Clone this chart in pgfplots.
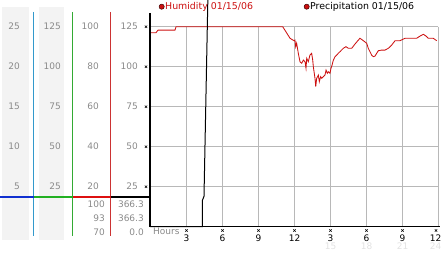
\documentclass[border=0pt]{standalone}
\usepackage{pgfplots}
\pgfplotsset{compat=1.18}
\usepackage{pgfplotstable}
\usepackage{fontspec}
\setmainfont{DejaVu Sans}
\definecolor{hum}{HTML}{CC1010}
\definecolor{bgg}{HTML}{F3F3F3}
\definecolor{gridg}{HTML}{B8B8B8}
\definecolor{lab}{HTML}{8A8A8A}
\definecolor{faint}{HTML}{E2E2E2}
\definecolor{vblue}{HTML}{3399CC}
\definecolor{hblue}{HTML}{1030D0}
\definecolor{vgreen}{HTML}{33AA33}
\definecolor{hgreen}{HTML}{22B022}
\definecolor{vred}{HTML}{CC3333}
\definecolor{hred}{HTML}{DD1010}

\pgfplotstableread{
t h
0 97.0
0.5 97.0
0.67 98.3
2.08 98.3
2.17 100
11.06 100
11.67 94.2
12.0 93
12.08 93.3
12.14 90
12.22 91.7
12.36 86.7
12.5 82.5
12.64 81.7
12.78 83.3
12.92 82.5
13.0 79.2
13.06 84.2
13.19 82.5
13.33 85.8
13.47 86.7
13.56 83.3
13.61 80
13.69 76.7
13.75 74.2
13.81 70
13.89 74.2
14.03 75.8
14.11 72.5
14.22 75
14.31 74.2
14.44 75
14.58 75.8
14.67 78.3
14.78 76.7
14.86 77.5
15.0 76.7
15.08 79.2
15.17 80.8
15.28 83.3
15.42 85
15.56 85.8
15.69 86.7
15.83 87.5
16.11 89.2
16.33 90
16.53 89.2
16.81 89.2
17.08 91.3
17.36 93.3
17.5 94.2
17.78 93
18.06 91.7
18.19 89.2
18.33 87.5
18.47 85.8
18.61 85
18.75 85.3
18.89 86.7
19.03 88
19.31 88.3
19.58 88.3
19.86 89.2
20.14 90.8
20.42 93
20.83 93
21.25 94.2
22.22 94.2
22.5 95.3
22.78 96.2
23.0 95.3
23.19 94.2
23.61 94.2
23.89 93
}\humid

\pgfplotstableread{
t p
0 0
4.36 0
4.37 16.5
4.5 19
4.82 142
5.4 366.3
24 366.3
}\precip

\newcommand{\xm}[2]{\draw[line width=0.5pt] (#1-1.2,#2-1.2) -- (#1+1.2,#2+1.2) (#1-1.2,#2+1.2) -- (#1+1.2,#2-1.2);}

\begin{document}
\begin{tikzpicture}[x=1pt,y=1pt]
\useasboundingbox (0,0) rectangle (442,253);
% background decorations, px coordinates (y downward)
\begin{scope}[shift={(0,253)}, yscale=-1]
  \fill[bgg] (2,7) rectangle (29,240);
  \fill[bgg] (39,7) rectangle (64,240);
  \draw[gridg, line width=0.9pt]
    (186.5,26.7) -- (186.5,226.7) (222.5,26.7) -- (222.5,226.7)
    (258.5,26.7) -- (258.5,226.7) (294.5,26.7) -- (294.5,226.7)
    (330.5,26.7) -- (330.5,226.7) (366.5,26.7) -- (366.5,226.7)
    (402.5,26.7) -- (402.5,226.7) (438.5,26.7) -- (438.5,226.7);
  \draw[gridg, line width=0.9pt]
    (150,26.5) -- (438,26.5) (150,66.5) -- (438,66.5)
    (150,106.5) -- (438,106.5) (150,146.5) -- (438,146.5)
    (150,186.5) -- (438,186.5);
\end{scope}

\begin{axis}[at={(0,0)}, anchor=south west,
  width=442pt, height=253pt, scale only axis,
  xmin=-12.5, xmax=24.3333, ymin=-16.44, ymax=141.69,
  hide axis, clip=true]
  \addplot[hum, line width=0.85pt] table[x=t, y expr=\thisrow{h}*1.25] {\humid};
  \addplot[black, line width=1pt] table[x=t, y=p] {\precip};
\end{axis}

\begin{scope}[shift={(0,253)}, yscale=-1]
  % axes
  \draw[black, line width=1.3pt] (150,13) -- (150,226.7);
  \draw[black, line width=1.1pt] (150,226.7) -- (440,226.7);
  % left panel lines
  \draw[vblue, line width=0.9pt] (33.5,12) -- (33.5,236);
  \draw[vgreen, line width=0.9pt] (72.5,12) -- (72.5,236);
  \draw[vred, line width=0.9pt] (110.5,12) -- (110.5,236);
  \draw[hblue, line width=2pt] (0,196.7) -- (33.5,196.7);
  \draw[hgreen, line width=2pt] (33.5,196.7) -- (72.5,196.7);
  \draw[hred, line width=2pt] (72.5,196.7) -- (110.5,196.7);
  \draw[black, line width=2pt] (110.5,196.7) -- (150,196.7);
  % tick crosses
  \xm{146}{26.7}\xm{146}{66.7}\xm{146}{106.7}\xm{146}{146.7}\xm{146}{186.7}
  \xm{186.5}{230.5}\xm{222.5}{230.5}\xm{258.5}{230.5}\xm{294.5}{230.5}
  \xm{330.5}{230.5}\xm{366.5}{230.5}\xm{402.5}{230.5}\xm{436}{230.5}
  % left panel labels
  \begin{scope}[every node/.style={text=lab, inner sep=0pt, anchor=east, font=\fontsize{9}{10}\selectfont}]
    \node at (20,26.7) {25};  \node at (20,66.7) {20};  \node at (20,106.7) {15};
    \node at (20,146.7) {10}; \node at (20,186.7) {5};
    \node at (61,26.7) {125}; \node at (61,66.7) {100}; \node at (61,106.7) {75};
    \node at (61,146.7) {50}; \node at (61,186.7) {25};
    \node at (99,26.7) {100}; \node at (99,66.7) {80};  \node at (99,106.7) {60};
    \node at (99,146.7) {40}; \node at (99,186.7) {20};
    \node at (138,26.7) {125}; \node at (138,66.7) {100}; \node at (138,106.7) {75};
    \node at (138,146.7) {50}; \node at (138,186.7) {25};
    \node at (105,204) {100}; \node at (105,218) {93}; \node at (105,232) {70};
    \node at (144,204) {366.3}; \node at (144,218) {366.3}; \node at (144,232) {0.0};
  \end{scope}
  % hours
  \node[text=lab, inner sep=0pt, anchor=base west, font=\fontsize{9}{10}\selectfont] at (153,235) {Hours};
  \begin{scope}[every node/.style={text=black, inner sep=0pt, anchor=center, font=\fontsize{9}{10}\selectfont}]
    \node at (186.5,238.5) {3}; \node at (222.5,238.5) {6}; \node at (258.5,238.5) {9};
    \node at (294.5,238.5) {12}; \node at (330.5,238.5) {3}; \node at (366.5,238.5) {6};
    \node at (402.5,238.5) {9}; \node at (435.5,238.5) {12};
  \end{scope}
  \begin{scope}[every node/.style={text=faint, inner sep=0pt, anchor=center, font=\fontsize{9}{10}\selectfont}]
    \node at (330.5,246.5) {15}; \node at (366.5,246.5) {18};
    \node at (402.5,246.5) {21}; \node at (435.5,246.5) {24};
  \end{scope}
  % legend
  \fill[hum, draw=black!70!hum, line width=0.5pt] (161.7,6.7) circle (2.6);
  \node[text=hum, inner sep=0pt, anchor=base west, font=\fontsize{9.4}{10}\selectfont] at (165,10) {Humidity 01/15/06};
  \fill[hum, draw=black!70!hum, line width=0.5pt] (306.7,6.7) circle (2.6);
  \node[text=black, inner sep=0pt, anchor=base west, font=\fontsize{9.4}{10}\selectfont] at (310,10) {Precipitation 01/15/06};
\end{scope}
\end{tikzpicture}
\end{document}
